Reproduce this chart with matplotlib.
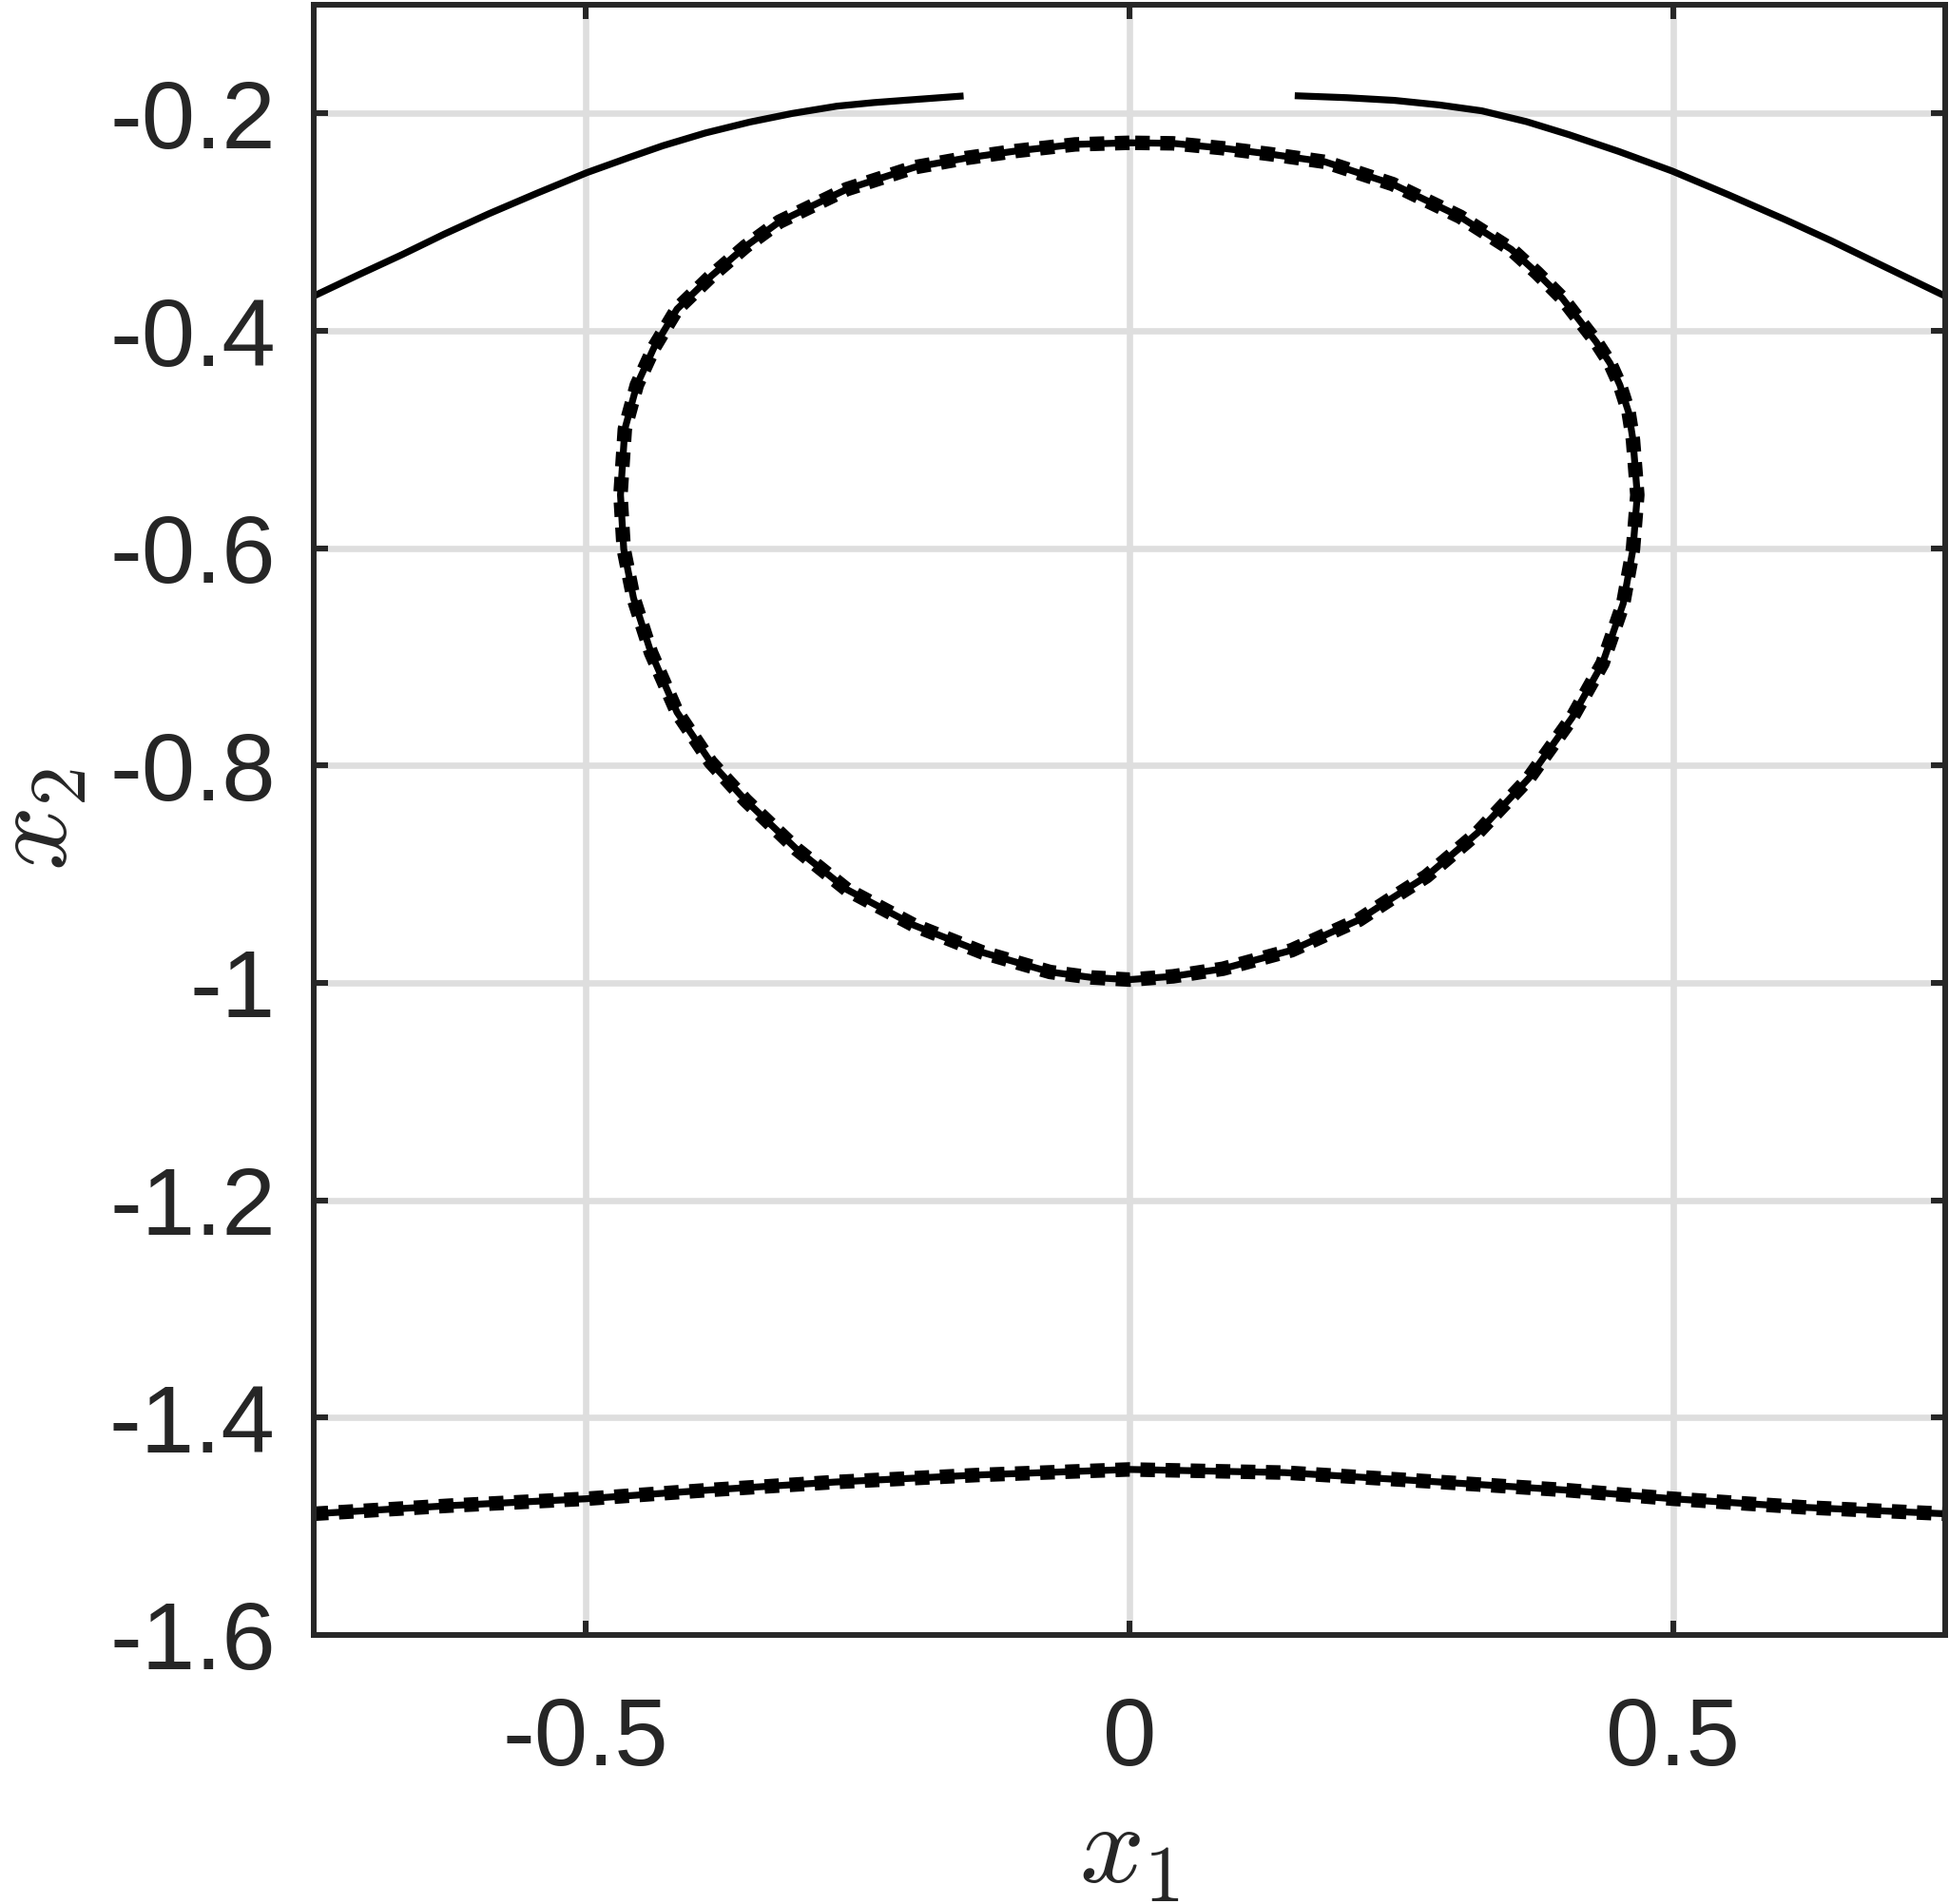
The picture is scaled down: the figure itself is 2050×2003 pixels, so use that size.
import numpy as np
import matplotlib.pyplot as plt

plt.rcParams['font.family'] = ['Liberation Sans', 'DejaVu Sans']
plt.rcParams['mathtext.fontset'] = 'cm'
plt.rcParams['axes.unicode_minus'] = False
plt.rcParams['lines.scale_dashes'] = False

# -----------------------------------------------------------------------------
# curves
# -----------------------------------------------------------------------------
# closed curve (top -> left side -> bottom -> right side -> top)
loop_x = [0.0, -0.050, -0.104, -0.150, -0.198, -0.260, -0.322, -0.353, -0.385,
          -0.416, -0.437, -0.453, -0.464, -0.468, -0.465, -0.456, -0.440,
          -0.416, -0.385, -0.353, -0.306, -0.260, -0.230, -0.198, -0.135,
          -0.073, -0.035, 0.0,
          0.040, 0.086, 0.149, 0.211, 0.240, 0.273, 0.320, 0.367, 0.407,
          0.435, 0.454, 0.463, 0.467, 0.463, 0.459, 0.451, 0.442, 0.429,
          0.398, 0.375, 0.351, 0.304, 0.275, 0.242, 0.180, 0.130, 0.086,
          0.040, 0.0]
loop_y = [-0.227, -0.2285, -0.2345, -0.241, -0.2496, -0.2697, -0.2997,
          -0.3224, -0.350, -0.380, -0.415, -0.450, -0.4905, -0.551, -0.601,
          -0.646, -0.696, -0.751, -0.797, -0.832, -0.877, -0.914, -0.930,
          -0.947, -0.972, -0.990, -0.995, -0.997,
          -0.994, -0.987, -0.970, -0.942, -0.923, -0.902, -0.862, -0.812,
          -0.756, -0.706, -0.651, -0.601, -0.551, -0.5005, -0.475, -0.450,
          -0.430, -0.410, -0.370, -0.347, -0.325, -0.295, -0.281, -0.265,
          -0.2446, -0.2375, -0.232, -0.2275, -0.227]

# lower branch
low_x = [-0.75, -0.625, -0.500, -0.386, -0.271, -0.137, 0.0, 0.143, 0.286,
         0.400, 0.500, 0.621, 0.75]
low_y = [-1.4885, -1.481, -1.4747, -1.4666, -1.4593, -1.4527, -1.4477,
         -1.4506, -1.4593, -1.4666, -1.4747, -1.4826, -1.4885]

# upper branches (solid only)
upl_x = [-0.75, -0.710, -0.669, -0.630, -0.589, -0.545, -0.499, -0.460,
         -0.429, -0.390, -0.349, -0.310, -0.269, -0.235, -0.200, -0.1525]
upl_y = [-0.368, -0.349, -0.330, -0.311, -0.2923, -0.2735, -0.2545, -0.2405,
         -0.2297, -0.2180, -0.2079, -0.2000, -0.1933, -0.1900, -0.1874, -0.1839]
upr_x = [0.152, 0.200, 0.244, 0.285, 0.324, 0.365, 0.404, 0.450, 0.499,
         0.550, 0.604, 0.645, 0.684, 0.717, 0.75]
upr_y = [-0.1837, -0.1855, -0.188, -0.1922, -0.1976, -0.2075, -0.2195,
         -0.2350, -0.253, -0.2745, -0.2982, -0.317, -0.336, -0.352, -0.368]

xticks = [-0.5, 0, 0.5]
xticklabels = ['-0.5', '0', '0.5']
yticks = [-1.6, -1.4, -1.2, -1.0, -0.8, -0.6, -0.4, -0.2]
yticklabels = ['-1.6', '-1.4', '-1.2', '-1', '-0.8', '-0.6', '-0.4', '-0.2']

# -----------------------------------------------------------------------------
# figure
# -----------------------------------------------------------------------------
dark = '#262626'
fig = plt.figure(figsize=(20.5, 20.03), dpi=100)
ax = fig.add_axes([0.161, 0.1413, 0.837, 0.8562])

solid = dict(color='black', lw=5.2, solid_capstyle='butt', solid_joinstyle='round')
dotted = dict(color='black', lw=11, linestyle=(0, (11, 8)), dash_capstyle='butt',
              dash_joinstyle='round')

ax.plot(upl_x, upl_y, **solid)
ax.plot(upr_x, upr_y, **solid)
ax.plot(loop_x, loop_y, **solid)
ax.plot(low_x, low_y, **solid)
ax.plot(loop_x, loop_y, **dotted)
ax.plot(low_x, low_y, **dotted)

ax.set_xlim(-0.75, 0.75)
ax.set_ylim(-1.6, -0.1)
ax.set_xticks(xticks)
ax.set_xticklabels(xticklabels)
ax.set_yticks(yticks)
ax.set_yticklabels(yticklabels)

ax.grid(True, color='#dedede', lw=4.8)
ax.set_axisbelow(True)
for s in ax.spines.values():
    s.set_linewidth(4.3)
    s.set_color(dark)

ax.tick_params(axis='both', direction='in', length=10.5, width=4.3, color=dark,
               labelcolor=dark, labelsize=73, top=True, right=True)
ax.tick_params(axis='x', pad=46)
ax.tick_params(axis='y', pad=29)

ax.set_xlabel(r'$x_1$', fontsize=86, color=dark, labelpad=12)
ax.set_ylabel(r'$x_2$', fontsize=86, color=dark, labelpad=14)

plt.savefig('out.png', dpi=100)
